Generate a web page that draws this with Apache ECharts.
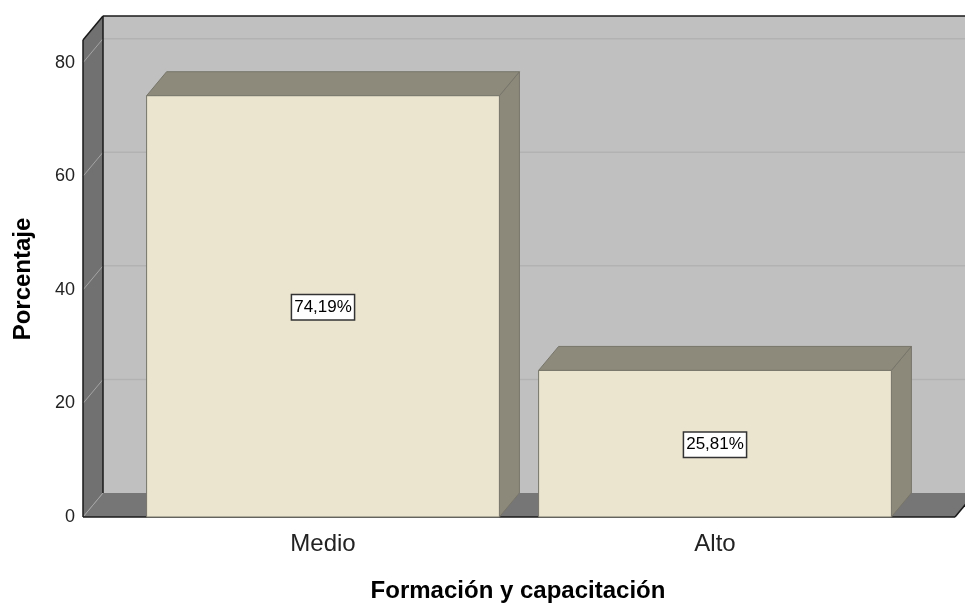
<!DOCTYPE html>
<html>
<head>
<meta charset="utf-8">
<script src="https://cdn.jsdelivr.net/npm/echarts@6/dist/echarts.min.js"></script>
<style>
  html, body { margin: 0; padding: 0; background: #fff; }
  #chart { width: 965px; height: 604px; }
</style>
</head>
<body>
<div id="chart"></div>
<script>
  // datos
  var categories = ["Medio", "Alto"];
  var percentages = [74.19, 25.81];
  var valueLabels = ["74,19%", "25,81%"];
  var yTicks = [20, 40, 60, 80];

  var DX = 20, DY = -24;   // profundidad 3D
  var SIDE = 44;           // margen de las paredes fuera de las barras

  var chart = echarts.init(document.getElementById("chart"));

  function renderWalls(params, api) {
    var cs = params.coordSys;
    var L = cs.x - SIDE, R = cs.x + cs.width + SIDE;
    var T = cs.y, B = cs.y + cs.height;
    var els = [];
    // pared del fondo
    els.push({ type: "polygon", shape: { points: [[L + DX, T + DY], [R + DX, T + DY], [R + DX, B + DY], [L + DX, B + DY]] },
      style: { fill: "#c0c0c0" } });
    yTicks.forEach(function (v) {
      var y = api.coord([0, v])[1];
      els.push({ type: "line", shape: { x1: L + DX, y1: y + DY, x2: R + DX, y2: y + DY },
        style: { stroke: "#b2b2b2", lineWidth: 1.5 } });
    });
    // suelo
    els.push({ type: "polygon", shape: { points: [[L, B], [R, B], [R + DX, B + DY], [L + DX, B + DY]] },
      style: { fill: "#767676" } });
    // pared izquierda
    els.push({ type: "polygon", shape: { points: [[L, T], [L + DX, T + DY], [L + DX, B + DY], [L, B]] },
      style: { fill: "#717171" } });
    yTicks.forEach(function (v) {
      var y = api.coord([0, v])[1];
      els.push({ type: "line", shape: { x1: L, y1: y, x2: L + DX, y2: y + DY },
        style: { stroke: "#a4a4a4", lineWidth: 1 } });
    });
    els.push({ type: "line", shape: { x1: L, y1: B, x2: L + DX, y2: B + DY }, style: { stroke: "#a4a4a4", lineWidth: 1 } });
    // bordes
    var edges = [
      [L + DX, T + DY, R + DX + 30, T + DY],
      [L, T, L + DX, T + DY],
      [L, T, L, B],
      [L + DX, T + DY, L + DX, B + DY],
      [L, B, R, B],
      [R, B, R + DX, B + DY]
    ];
    edges.forEach(function (e) {
      els.push({ type: "line", shape: { x1: e[0], y1: e[1], x2: e[2], y2: e[3] },
        style: { stroke: "#1a1a1a", lineWidth: 1.5 } });
    });
    return { type: "group", children: els };
  }

  function renderBar(params, api) {
    var idx = api.value(0);
    var val = api.value(1);
    var base = api.coord([idx, 0]);
    var top = api.coord([idx, val]);
    var w = api.size([1, 0])[0] * 0.9;
    var x0 = base[0] - w / 2, x1 = base[0] + w / 2;
    var y0 = base[1], y1 = top[1];
    var edge = { stroke: "#77756a", lineWidth: 1 };
    return {
      type: "group",
      children: [
        { type: "polygon", shape: { points: [[x1, y1], [x1 + DX, y1 + DY], [x1 + DX, y0 + DY], [x1, y0]] },
          style: Object.assign({ fill: "#8c897a" }, edge) },
        { type: "polygon", shape: { points: [[x0, y1], [x1, y1], [x1 + DX, y1 + DY], [x0 + DX, y1 + DY]] },
          style: Object.assign({ fill: "#8d8a7b" }, edge) },
        { type: "rect", shape: { x: x0, y: y1, width: w, height: y0 - y1 },
          style: Object.assign({ fill: "#ebe5d0" }, edge) },
        { type: "text", x: base[0], y: (y0 + y1) / 2 + 1,
          style: { text: valueLabels[params.dataIndex], align: "center", verticalAlign: "middle",
            font: "17px 'Liberation Sans', Arial, sans-serif", fill: "#000",
            backgroundColor: "#fff", borderColor: "#333", borderWidth: 1.5, padding: [4, 2, 3, 2] } }
      ]
    };
  }

  chart.setOption({
    animation: false,
    grid: { left: 127, right: 54, top: 40, bottom: 87 },
    xAxis: {
      type: "category",
      data: categories,
      axisLine: { show: false },
      axisTick: { show: false },
      axisLabel: { margin: 15, fontSize: 24, color: "#222", fontFamily: "Liberation Sans" }
    },
    yAxis: {
      type: "value",
      min: 0,
      max: 84,
      interval: 20,
      splitLine: { show: false },
      axisLine: { show: false },
      axisTick: { show: false },
      axisLabel: { margin: 52, fontSize: 18, color: "#222", fontFamily: "Liberation Sans",
        showMaxLabel: false, padding: [4, 0, 0, 0] }
    },
    graphic: [
      { type: "text", x: 23, y: 279, rotation: Math.PI / 2,
        style: { text: "Porcentaje", align: "center", verticalAlign: "middle",
          font: "bold 24px 'Liberation Sans', Arial, sans-serif", fill: "#000" } },
      { type: "text", x: 518, y: 591,
        style: { text: "Formación y capacitación", align: "center", verticalAlign: "middle",
          font: "bold 24px 'Liberation Sans', Arial, sans-serif", fill: "#000" } }
    ],
    series: [
      { type: "custom", z: 1, silent: true, renderItem: renderWalls, data: [[0, 0]] },
      { type: "custom", z: 2, renderItem: renderBar,
        data: percentages.map(function (v, i) { return [i, v]; }) }
    ]
  });
</script>
</body>
</html>
